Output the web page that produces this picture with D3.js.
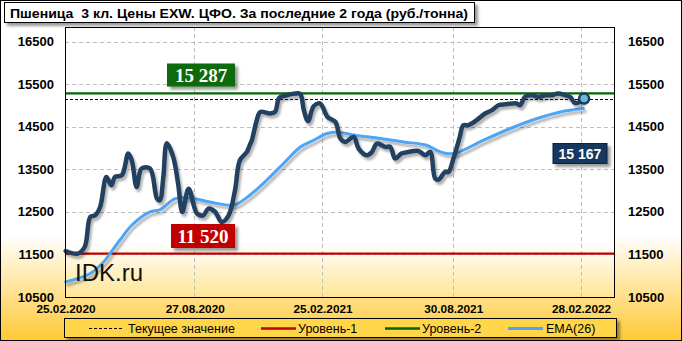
<!DOCTYPE html>
<html>
<head>
<meta charset="utf-8">
<script src="https://cdn.jsdelivr.net/npm/d3@7"></script>
<style>
body { margin: 0; }
svg { display: block; }
</style>
</head>
<body>
<div id="chart"></div>
<script>
// price, rub/t
const priceDates = ["26.02.2020","14.03.2020","24.03.2020","01.04.2020","08.04.2020","15.04.2020","24.04.2020","01.05.2020",
  "06.05.2020","16.05.2020","25.05.2020","30.05.2020","06.06.2020","13.06.2020","25.06.2020","05.07.2020","09.07.2020",
  "14.07.2020","19.07.2020","28.07.2020","04.08.2020","10.08.2020","19.08.2020","31.08.2020","09.09.2020","16.09.2020",
  "26.09.2020","05.10.2020","15.10.2020","24.10.2020","31.10.2020","10.11.2020","14.11.2020","17.11.2020","24.11.2020",
  "29.11.2020","13.12.2020","20.12.2020","26.12.2020","03.01.2021","18.01.2021","25.01.2021","30.01.2021","05.02.2021",
  "13.02.2021","22.02.2021","04.03.2021","08.03.2021","16.03.2021","23.03.2021","30.03.2021","11.04.2021","18.04.2021",
  "30.04.2021","07.05.2021","14.05.2021","26.05.2021","02.06.2021","09.06.2021","18.06.2021","28.06.2021","12.07.2021",
  "22.07.2021","29.07.2021","05.08.2021","10.08.2021","19.08.2021","24.08.2021","31.08.2021","05.09.2021","09.09.2021",
  "14.09.2021","21.09.2021","03.10.2021","15.10.2021","25.10.2021","03.11.2021","13.11.2021","22.11.2021","29.11.2021",
  "04.12.2021","11.12.2021","21.12.2021","30.12.2021","09.01.2022","18.01.2022","27.01.2022","06.02.2022","13.02.2022",
  "20.02.2022","27.02.2022","05.03.2022"];
const priceValues = [11582,11520,11676,12382,12422,12618,13324,13128,
  13324,13364,13874,13717,13088,13521,13521,12815,12775,
  13324,14117,13794,13168,12500,13046,12462,12422,12580,
  12500,12265,12422,13011,13717,13912,14070,14187,14658,
  14853,14815,14853,15187,15234,15287,15270,14893,14634,
  14987,15051,14752,14698,14618,14227,14147,14265,13992,
  13834,13912,14109,14030,14030,13757,13874,13912,13935,
  13834,13912,13286,13262,13441,13441,13757,14030,14265,
  14540,14540,14658,14815,14893,15011,15034,15051,15051,
  15011,15206,15246,15206,15246,15246,15287,15246,15206,
  15065,15088,15167];

// EMA(26)
const emaDates = ["26.02.2020","01.04.2020","20.04.2020","29.04.2020","13.05.2020","30.05.2020","25.06.2020","09.07.2020",
  "31.07.2020","26.08.2020","18.09.2020","17.10.2020","26.10.2020","14.11.2020","08.12.2020","01.01.2021","25.01.2021",
  "13.02.2021","04.03.2021","18.03.2021","11.04.2021","19.05.2021","21.06.2021","24.07.2021","07.08.2021","22.08.2021",
  "05.09.2021","14.09.2021","13.10.2021","20.11.2021","28.12.2021","30.01.2022","04.03.2022"];
const emaValues = [10853,11051,11324,11521,11834,12187,12500,12552,
  12815,12815,12735,12658,12681,12893,13246,13639,14030,
  14187,14345,14383,14312,14227,14147,14069,13952,13874,
  13888,13952,14187,14463,14698,14853,14933];

const level1 = 11520;
const level2 = 15287;
const currentValue = 15167;

const yTicks = [10500, 11500, 12500, 13500, 14500, 15500, 16500];
const xTickLabels = ["25.02.2020", "27.08.2020", "25.02.2021", "30.08.2021", "28.02.2022"];
const legendLabels = ["Текущее значение", "Уровень-1", "Уровень-2", "EMA(26)"];
const titleText = "Пшеница  3 кл. Цены EXW. ЦФО. За последние 2 года (руб./тонна)";

var W = 682, H = 341;
var plot = {left: 65, right: 615, top: 27, bottom: 297};

var parse = d3.timeParse("%d.%m.%Y");
var fmtNum = function(v) { return d3.format(",")(v).replace(",", " "); };

var price = priceDates.map(function(d, i) { return {date: parse(d), value: priceValues[i]}; });
var ema = emaDates.map(function(d, i) { return {date: parse(d), value: emaValues[i]}; });

var x = d3.scaleTime()
    .domain([parse("25.02.2020"), parse("18.04.2022")])
    .range([plot.left, plot.right]);
var y = d3.scaleLinear()
    .domain([10500, 16850])
    .range([plot.bottom, plot.top]);

var svg = d3.select("#chart").append("svg")
    .attr("width", W).attr("height", H);

var defs = svg.append("defs");
var bg = defs.append("linearGradient").attr("id", "bg").attr("x1", 0).attr("y1", 0).attr("x2", 0).attr("y2", 1);
bg.append("stop").attr("offset", "0.69").attr("stop-color", "#ffffff");
bg.append("stop").attr("offset", "1").attr("stop-color", "#ffc933");
var pg = defs.append("linearGradient").attr("id", "pg").attr("x1", 0).attr("y1", 0).attr("x2", 0).attr("y2", 1);
pg.append("stop").attr("offset", "0.8").attr("stop-color", "#ffffff");
pg.append("stop").attr("offset", "1").attr("stop-color", "#ffe596");

var sh = defs.append("filter").attr("id", "shadow").attr("x", "-10%").attr("y", "-30%").attr("width", "130%").attr("height", "180%");
sh.append("feDropShadow").attr("dx", 3).attr("dy", 3).attr("stdDeviation", 1.5)
    .attr("flood-color", "#000").attr("flood-opacity", 0.4);
var lsh = defs.append("filter").attr("id", "lineShadow").attr("x", "-5%").attr("y", "-5%").attr("width", "110%").attr("height", "115%");
lsh.append("feDropShadow").attr("dx", 2).attr("dy", 3).attr("stdDeviation", 1.2)
    .attr("flood-color", "#000").attr("flood-opacity", 0.3);

// background
svg.append("rect").attr("width", W).attr("height", H).attr("fill", "url(#bg)");
svg.append("rect").attr("x", 0.5).attr("y", 0.5).attr("width", W - 1).attr("height", H - 1)
    .attr("fill", "none").attr("stroke", "#000");

svg.append("rect")
    .attr("x", plot.left).attr("y", plot.top)
    .attr("width", plot.right - plot.left).attr("height", plot.bottom - plot.top)
    .attr("fill", "url(#pg)");

// grid
svg.append("g").selectAll("line")
    .data(yTicks.slice(1))
    .enter().append("line")
    .attr("x1", plot.left).attr("x2", plot.right)
    .attr("y1", function(d) { return Math.round(y(d)) + 0.5; })
    .attr("y2", function(d) { return Math.round(y(d)) + 0.5; })
    .attr("stroke", "#bdbdbd").attr("stroke-dasharray", "4,3");
svg.append("g").selectAll("line")
    .data(xTickLabels.slice(1))
    .enter().append("line")
    .attr("x1", function(d) { return Math.round(x(parse(d))) + 0.5; })
    .attr("x2", function(d) { return Math.round(x(parse(d))) + 0.5; })
    .attr("y1", plot.top).attr("y2", plot.bottom)
    .attr("stroke", "#bdbdbd").attr("stroke-dasharray", "4,3");

// levels
svg.append("line").attr("x1", plot.left).attr("x2", plot.right)
    .attr("y1", y(level1)).attr("y2", y(level1))
    .attr("stroke", "#c00000").attr("stroke-width", 2.2);
svg.append("line").attr("x1", plot.left).attr("x2", plot.right)
    .attr("y1", y(level2)).attr("y2", y(level2))
    .attr("stroke", "#006600").attr("stroke-width", 2.2);
svg.append("line").attr("x1", plot.left).attr("x2", plot.right)
    .attr("y1", Math.round(y(currentValue)) + 0.5).attr("y2", Math.round(y(currentValue)) + 0.5)
    .attr("stroke", "#000").attr("stroke-dasharray", "3,2");

var line = d3.line()
    .x(function(d) { return x(d.date); })
    .y(function(d) { return y(d.value); })
    .curve(d3.curveCatmullRom.alpha(0.5));

svg.append("path").datum(ema)
    .attr("d", line)
    .attr("fill", "none").attr("stroke", "#4da6f5").attr("stroke-width", 3)
    .attr("stroke-linecap", "round")
    .attr("filter", "url(#lineShadow)");

svg.append("path").datum(price)
    .attr("d", line)
    .attr("fill", "none").attr("stroke", "#243f60").attr("stroke-width", 4.5)
    .attr("stroke-linejoin", "round").attr("stroke-linecap", "round")
    .attr("filter", "url(#lineShadow)");

var last = price[price.length - 1];
svg.append("circle")
    .attr("cx", x(last.date)).attr("cy", y(last.value)).attr("r", 5)
    .attr("fill", "#6bbad8").attr("stroke", "#1f3864").attr("stroke-width", 2.5);

// value boxes
function valueBox(cx, cy, w, h, fill, txt, font, size) {
    var g = svg.append("g");
    g.append("rect")
        .attr("x", cx - w / 2).attr("y", cy - h / 2).attr("width", w).attr("height", h)
        .attr("fill", fill).attr("filter", "url(#shadow)");
    g.append("text")
        .attr("x", cx).attr("y", cy)
        .attr("text-anchor", "middle").attr("dominant-baseline", "central")
        .attr("font-family", font).attr("font-weight", "bold").attr("font-size", size)
        .attr("fill", "#fff")
        .text(txt);
    return g;
}
valueBox(201, 75, 68, 23, "#0b6b0b", fmtNum(level2), "'Liberation Serif', serif", 19);
valueBox(203, 236, 64, 24, "#c00000", fmtNum(level1), "'Liberation Serif', serif", 19);
valueBox(580, 153.5, 54, 20, "#17375e", fmtNum(currentValue), "'Liberation Sans', Arial, sans-serif", 14)
    .select("rect").attr("stroke", "#0d223d").attr("stroke-width", 1);

// watermark
svg.append("text").attr("x", 75).attr("y", 281)
    .attr("font-family", "'Liberation Sans', Arial, sans-serif").attr("font-size", 24)
    .attr("fill", "#111").text("IDK.ru");

// plot frame
svg.append("rect")
    .attr("x", plot.left + 0.5).attr("y", plot.top + 0.5)
    .attr("width", plot.right - plot.left - 1).attr("height", plot.bottom - plot.top)
    .attr("fill", "none").attr("stroke", "#000");

// y labels, both sides
var tickFont = "'Liberation Sans', Arial, sans-serif";
svg.append("g").selectAll("text").data(yTicks).enter().append("text")
    .attr("x", plot.left - 11).attr("y", function(d) { return y(d); })
    .attr("text-anchor", "end").attr("dominant-baseline", "central")
    .attr("font-family", tickFont).attr("font-weight", "bold").attr("font-size", 13)
    .text(function(d) { return d; });
svg.append("g").selectAll("text").data(yTicks).enter().append("text")
    .attr("x", plot.right + 13).attr("y", function(d) { return y(d); })
    .attr("text-anchor", "start").attr("dominant-baseline", "central")
    .attr("font-family", tickFont).attr("font-weight", "bold").attr("font-size", 13)
    .text(function(d) { return d; });

// x labels
svg.append("g").selectAll("text").data(xTickLabels).enter().append("text")
    .attr("x", function(d) { return x(parse(d)) + 1; }).attr("y", 312.5)
    .attr("text-anchor", "middle")
    .attr("font-family", tickFont).attr("font-weight", "bold").attr("font-size", 11.8)
    .text(function(d) { return d; });

// title
svg.append("rect").attr("x", 4.5).attr("y", 2.5).attr("width", 470).attr("height", 20)
    .attr("fill", "#fff").attr("stroke", "#000").attr("filter", "url(#shadow)");
svg.append("text").attr("x", 10).attr("y", 17.5)
    .attr("font-family", tickFont).attr("font-weight", "bold").attr("font-size", 13.5)
    .attr("textLength", 458).attr("lengthAdjust", "spacingAndGlyphs")
    .style("white-space", "pre")
    .text(titleText);

// legend
svg.append("rect").attr("x", 64.5).attr("y", 318.5).attr("width", 552).attr("height", 19)
    .attr("fill", "#ffd54a").attr("stroke", "#000").attr("filter", "url(#shadow)");
var legendSamples = [
    {x1: 89, x2: 122, color: "#000", width: 1, dash: "3,2", tx: 128},
    {x1: 261, x2: 296, color: "#c00000", width: 2.5, dash: null, tx: 298},
    {x1: 385, x2: 420, color: "#006600", width: 2.5, dash: null, tx: 422},
    {x1: 508, x2: 543, color: "#4da6f5", width: 3, dash: null, tx: 546}
];
var lg = svg.append("g").selectAll("g").data(legendSamples).enter().append("g");
lg.append("line")
    .attr("x1", function(d) { return d.x1; }).attr("x2", function(d) { return d.x2; })
    .attr("y1", 328.5).attr("y2", 328.5)
    .attr("stroke", function(d) { return d.color; })
    .attr("stroke-width", function(d) { return d.width; })
    .attr("stroke-dasharray", function(d) { return d.dash; });
lg.append("text")
    .attr("x", function(d) { return d.tx; }).attr("y", 333)
    .attr("font-family", tickFont).attr("font-size", 12.5)
    .text(function(d, i) { return legendLabels[i]; });
</script>
</body>
</html>
